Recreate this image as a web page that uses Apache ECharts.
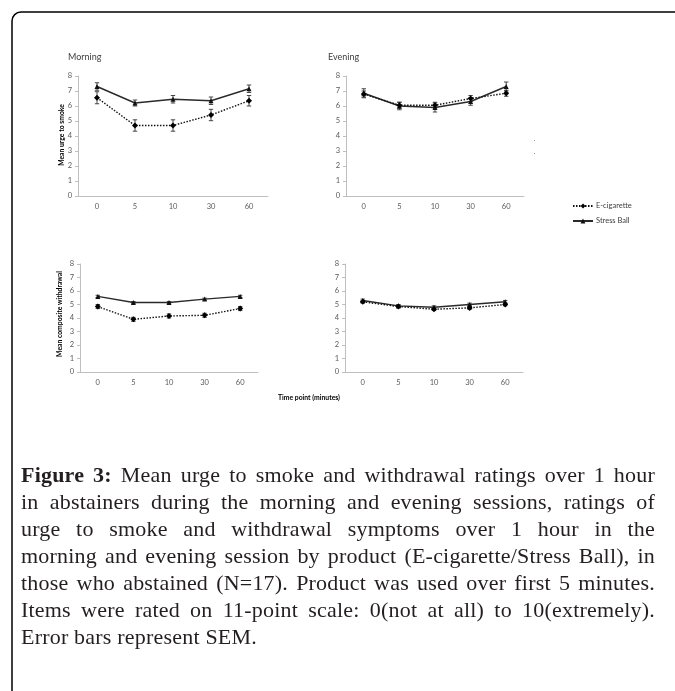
<!DOCTYPE html>
<html><head><meta charset="utf-8">
<script src="https://cdn.jsdelivr.net/npm/echarts@6/dist/echarts.min.js"></script>
<style>
html,body{margin:0;padding:0;background:#fff;}
#chart{position:absolute;left:0;top:0;width:675px;height:691px;}
#cap{position:absolute;left:21px;top:461px;width:634px;font-family:"Liberation Serif",serif;font-size:22px;letter-spacing:0.2px;line-height:27px;color:#231f20;}
#cap div{text-align:justify;text-align-last:justify;}
#cap div.last{text-align:left;text-align-last:left;}
#cap b{font-weight:bold;}
</style></head>
<body>
<div id="chart"></div>
<div id="cap">
<div><b>Figure 3:</b> Mean urge to smoke and withdrawal ratings over 1 hour</div>
<div>in abstainers during the morning and evening sessions, ratings of</div>
<div>urge to smoke and withdrawal symptoms over 1 hour in the</div>
<div>morning and evening session by product (E-cigarette/Stress Ball), in</div>
<div>those who abstained (N=17). Product was used over first 5 minutes.</div>
<div>Items were rated on 11-point scale: 0(not at all) to 10(extremely).</div>
<div class="last">Error bars represent SEM.</div>
</div>
<script>
// Data
const timePoints = ['0', '5', '10', '30', '60'];
const seriesNames = ['E-cigarette', 'Stress Ball'];
const panelTitles = ['Morning', 'Evening', '', ''];
const yTitles = ['Mean urge to smoke', 'Mean composite withdrawal'];

const urgeMorningEcig = [6.55, 4.7, 4.7, 5.4, 6.35];
const urgeMorningEcigErr = [0.4, 0.38, 0.38, 0.38, 0.35];
const urgeMorningBall = [7.3, 6.2, 6.45, 6.35, 7.15];
const urgeMorningBallErr = [0.25, 0.2, 0.25, 0.25, 0.25];

const urgeEveningEcig = [6.8, 6.05, 6.05, 6.5, 6.85];
const urgeEveningEcigErr = [0.2, 0.2, 0.2, 0.2, 0.2];
const urgeEveningBall = [6.85, 6.0, 5.9, 6.3, 7.3];
const urgeEveningBallErr = [0.3, 0.25, 0.3, 0.25, 0.3];

const wdMorningEcig = [4.85, 3.9, 4.15, 4.2, 4.7];
const wdMorningEcigErr = [0.15, 0.15, 0.15, 0.15, 0.15];
const wdMorningBall = [5.6, 5.15, 5.15, 5.4, 5.6];
const wdMorningBallErr = [0.08, 0.07, 0.07, 0.07, 0.08];

const wdEveningEcig = [5.2, 4.85, 4.65, 4.75, 5.0];
const wdEveningEcigErr = [0.1, 0.1, 0.1, 0.1, 0.1];
const wdEveningBall = [5.3, 4.9, 4.8, 5.0, 5.2];
const wdEveningBallErr = [0.1, 0.1, 0.1, 0.1, 0.1];

const yMin = 0, yMax = 8, yInterval = 1;

const panels = [
  {ecig: urgeMorningEcig, ecigErr: urgeMorningEcigErr, ball: urgeMorningBall, ballErr: urgeMorningBallErr},
  {ecig: urgeEveningEcig, ecigErr: urgeEveningEcigErr, ball: urgeEveningBall, ballErr: urgeEveningBallErr},
  {ecig: wdMorningEcig, ecigErr: wdMorningEcigErr, ball: wdMorningBall, ballErr: wdMorningBallErr},
  {ecig: wdEveningEcig, ecigErr: wdEveningEcigErr, ball: wdEveningBall, ballErr: wdEveningBallErr}
];

const grids = [
  {left: 78, top: 76, width: 190, height: 120},
  {left: 346, top: 76, width: 178, height: 120},
  {left: 80, top: 264, width: 178, height: 108},
  {left: 345, top: 264, width: 178, height: 108}
];

const FONT = 'Lato, "Open Sans", sans-serif';
const axisGray = '#bfbfbf';
const labelGray = '#595959';

const xAxes = [], yAxes = [], series = [];
panels.forEach((p, i) => {
  xAxes.push({
    type: 'category', gridIndex: i, data: timePoints, boundaryGap: true,
    axisLine: {lineStyle: {color: axisGray, width: 1}},
    axisTick: {show: false},
    axisLabel: {color: labelGray, fontSize: 7.5, fontFamily: FONT, margin: 7}
  });
  yAxes.push({
    type: 'value', gridIndex: i, min: yMin, max: yMax, interval: yInterval,
    axisLine: {show: true, lineStyle: {color: axisGray, width: 1}},
    axisTick: {show: true, length: 3, lineStyle: {color: axisGray}},
    splitLine: {show: false},
    axisLabel: {color: labelGray, fontSize: 7.5, fontFamily: FONT, margin: 6}
  });
  const mkErr = (vals, errs) => vals.map((v, k) => [k, v - errs[k], v + errs[k]]);
  const errRender = (params, api) => {
    const x = api.value(0);
    const lo = api.coord([x, api.value(1)]);
    const hi = api.coord([x, api.value(2)]);
    const w = 2.2;
    const st = {stroke: '#333', lineWidth: 0.9, fill: null};
    return {type: 'group', children: [
      {type: 'line', shape: {x1: lo[0], y1: lo[1], x2: hi[0], y2: hi[1]}, style: st},
      {type: 'line', shape: {x1: lo[0] - w, y1: lo[1], x2: lo[0] + w, y2: lo[1]}, style: st},
      {type: 'line', shape: {x1: hi[0] - w, y1: hi[1], x2: hi[0] + w, y2: hi[1]}, style: st}
    ]};
  };
  series.push({
    type: 'custom', xAxisIndex: i, yAxisIndex: i, renderItem: errRender,
    data: mkErr(p.ecig, p.ecigErr), silent: true, z: 1
  });
  series.push({
    type: 'custom', xAxisIndex: i, yAxisIndex: i, renderItem: errRender,
    data: mkErr(p.ball, p.ballErr), silent: true, z: 1
  });
  series.push({
    name: seriesNames[0], type: 'line', xAxisIndex: i, yAxisIndex: i, data: p.ecig,
    symbol: 'diamond', symbolSize: 6, showAllSymbol: true,
    lineStyle: {color: '#111', width: 1.4, type: [1.5, 1.5]},
    itemStyle: {color: '#000'}, z: 3
  });
  series.push({
    name: seriesNames[1], type: 'line', xAxisIndex: i, yAxisIndex: i, data: p.ball,
    symbol: 'triangle', symbolSize: 5, showAllSymbol: true,
    lineStyle: {color: '#2a2a2a', width: 1.4},
    itemStyle: {color: '#111'}, z: 2
  });
});

const graphics = [
  {type: 'rect', shape: {x: 12, y: 12, width: 720, height: 720, r: [9, 0, 0, 0]},
   style: {stroke: '#000', lineWidth: 1.5, fill: null}},
  {type: 'text', left: 68, top: 53, style: {text: panelTitles[0], font: '9px ' + FONT, fill: '#404040'}},
  {type: 'text', left: 328, top: 53, style: {text: panelTitles[1], font: '9px ' + FONT, fill: '#404040'}},
  {type: 'text', x: 62, y: 135, rotation: Math.PI / 2,
   style: {text: yTitles[0], font: 'bold 6.8px ' + FONT, fill: '#000', align: 'center', verticalAlign: 'middle'}},
  {type: 'text', x: 60, y: 314, rotation: Math.PI / 2,
   style: {text: yTitles[1], font: 'bold 6.8px ' + FONT, fill: '#000', align: 'center', verticalAlign: 'middle'}},
  {type: 'text', x: 309, y: 398,
   style: {text: 'Time point (minutes)', font: 'bold 6.8px ' + FONT, fill: '#000', align: 'center', verticalAlign: 'middle'}},
  {type: 'rect', shape: {x: 534, y: 140, width: 1, height: 1}, style: {fill: '#999'}},
  {type: 'rect', shape: {x: 534, y: 153, width: 1, height: 1}, style: {fill: '#999'}}
];

const chart = echarts.init(document.getElementById('chart'), null, {renderer: 'canvas'});
chart.setOption({
  animation: false,
  backgroundColor: '#fff',
  grid: grids,
  xAxis: xAxes,
  yAxis: yAxes,
  legend: {
    orient: 'vertical', left: 567, top: 197, itemGap: 7,
    itemWidth: 20, itemHeight: 6,
    data: seriesNames,
    textStyle: {fontSize: 7.5, fontFamily: FONT, color: '#404040', padding: [0, 0, 0, -2]}
  },
  graphic: graphics,
  series: series
});
</script>
</body></html>
